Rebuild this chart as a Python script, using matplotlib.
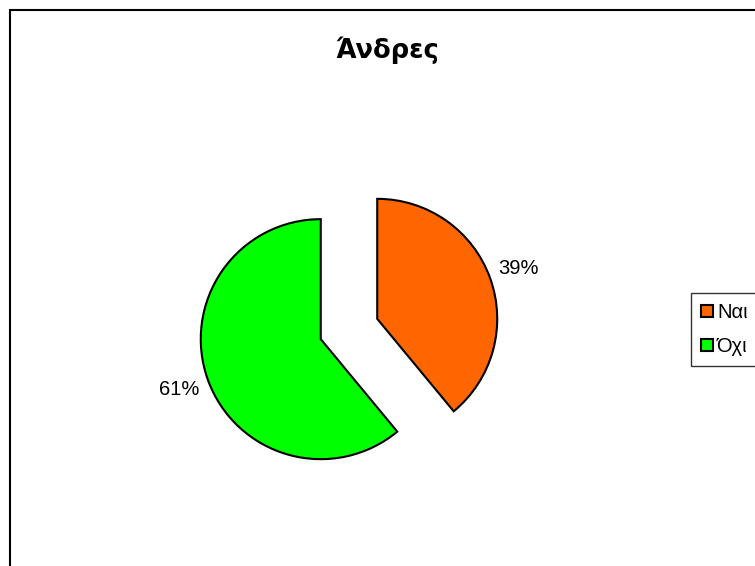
import matplotlib
matplotlib.use('Agg')
from matplotlib import pyplot as plt
from matplotlib.patches import Rectangle

W, H = 755, 566

labels = ['Ναι', 'Όχι']
values = [39, 61]
colors = ['#FF6600', '#00FF00']
title = 'Άνδρες'

fig = plt.figure(figsize=(W / 100, H / 100), dpi=100)

# outer chart frame, runs off the right and bottom edges
fig.patches.append(Rectangle((10 / W, -0.1), 1.2, 1.1 - 10 / H,
                             transform=fig.transFigure, fill=False,
                             edgecolor='black', linewidth=1.5))

R = 120      # pie radius in px
LIM = 1.6
cx, cy = 349, H - 329
size = 2 * LIM * R
ax = fig.add_axes([(cx - size / 2) / W, (cy - size / 2) / H, size / W, size / H])

wedges, texts, autotexts = ax.pie(
    values, colors=colors, startangle=90, counterclock=False,
    explode=[0.25, 0.25], autopct='%1.0f%%', pctdistance=1.25,
    wedgeprops=dict(edgecolor='black', linewidth=1.5),
    textprops=dict(family='Liberation Sans', fontsize=14.5, color='black'))
ax.set_xlim(-LIM, LIM)
ax.set_ylim(-LIM, LIM)
ax.set_aspect('equal')
ax.axis('off')

fig.text(387 / W, 1 - 50 / H, title, ha='center', va='center',
         fontsize=18.5, fontweight='bold', family='DejaVu Sans')

leg = fig.legend(wedges, labels, loc='upper left',
                 bbox_to_anchor=(691 / W, 1 - 293 / H),
                 prop=dict(family='Liberation Sans', size=14.5),
                 frameon=True, fancybox=False, handlelength=0.6,
                 handleheight=0.6, handletextpad=0.2, labelspacing=0.75,
                 borderpad=0.5, borderaxespad=0)
leg.get_frame().set_edgecolor('black')
leg.get_frame().set_linewidth(1.0)

fig.savefig('out.png', dpi=100)
